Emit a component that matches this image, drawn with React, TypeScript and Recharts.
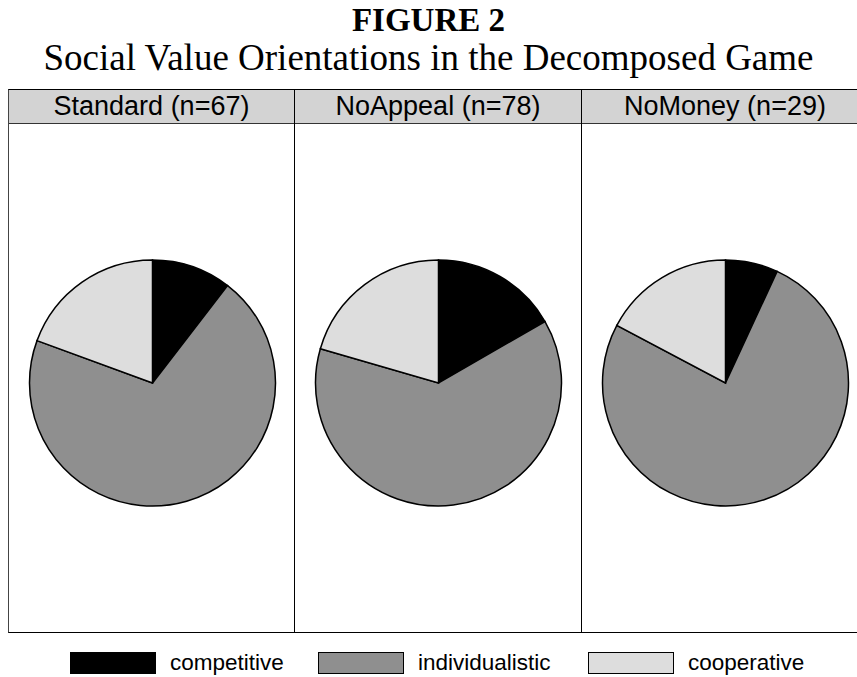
import React from "react";
import { PieChart, Pie, Cell } from "recharts";

const orientations = ["competitive", "individualistic", "cooperative"];
const orientationColors = ["#000000", "#8f8f8f", "#dddddd"];

const groups = ["Standard", "NoAppeal", "NoMoney"];
const groupSizes = [67, 78, 29];

// counts per orientation, in the same order as `orientations`
const standardCounts = [7, 47, 13];
const noAppealCounts = [13, 49, 16];
const noMoneyCounts = [2, 22, 5];

const countsByGroup = [standardCounts, noAppealCounts, noMoneyCounts];

const PANEL_LEFT = 8;
const PANEL_W = 287;
const HEADER_TOP = 89;
const HEADER_H = 34;
const PANEL_BOTTOM = 633;

function GroupPie({ counts }: { counts: number[] }) {
  const data = orientations.map((name, i) => ({ name, value: counts[i] }));
  return (
    <PieChart width={PANEL_W} height={PANEL_BOTTOM - HEADER_TOP - HEADER_H}>
      <Pie
        data={data}
        dataKey="value"
        nameKey="name"
        cx="50%"
        cy={254}
        outerRadius={123}
        startAngle={90}
        endAngle={-270}
        stroke="#000"
        strokeWidth={1.5}
        isAnimationActive={false}
      >
        {data.map((d, i) => (
          <Cell key={d.name} fill={orientationColors[i]} />
        ))}
      </Pie>
    </PieChart>
  );
}

export default function App() {
  return (
    <div
      style={{
        position: "absolute",
        left: 0,
        top: 0,
        width: 857,
        height: 677,
        background: "#fff",
        overflow: "hidden",
      }}
    >
      <div
        style={{
          position: "absolute",
          top: 1,
          width: 857,
          textAlign: "center",
          fontFamily: "'Liberation Serif', 'Times New Roman', serif",
          fontWeight: "bold",
          fontSize: 33,
          lineHeight: "38px",
        }}
      >
        FIGURE 2
      </div>
      <div
        style={{
          position: "absolute",
          top: 36,
          width: 857,
          textAlign: "center",
          fontFamily: "'Liberation Serif', 'Times New Roman', serif",
          fontSize: 37,
          lineHeight: "44px",
        }}
      >
        Social Value Orientations in the Decomposed Game
      </div>

      {groups.map((g, i) => (
        <div
          key={g}
          style={{
            position: "absolute",
            left: PANEL_LEFT + i * PANEL_W,
            top: HEADER_TOP,
            width: PANEL_W,
            height: PANEL_BOTTOM - HEADER_TOP,
            boxSizing: "border-box",
            border: "1.5px solid #000",
            borderLeftWidth: i === 0 ? 1.5 : 0,
            borderLeftColor: "#444",
          }}
        >
          <div
            style={{
              height: HEADER_H,
              boxSizing: "border-box",
              background: "#d3d3d3",
              borderBottom: "1.5px solid #333",
              textAlign: "center",
              fontFamily: "'Liberation Sans', Arial, sans-serif",
              fontSize: 27,
              lineHeight: `${HEADER_H - 2}px`,
            }}
          >
            {`${g} (n=${groupSizes[i]})`}
          </div>
          <GroupPie counts={countsByGroup[i]} />
        </div>
      ))}

      {orientations.map((o, i) => (
        <div
          key={o}
          style={{
            position: "absolute",
            top: 651,
            left: [70, 318, 588][i],
            display: "flex",
            alignItems: "center",
            fontFamily: "'Liberation Sans', Arial, sans-serif",
            fontSize: 22.5,
            lineHeight: "24px",
          }}
        >
          <span
            style={{
              display: "inline-block",
              width: 86,
              height: 22,
              background: orientationColors[i],
              border: "1.5px solid #000",
              boxSizing: "border-box",
              marginRight: 14,
            }}
          />
          <span>{o}</span>
        </div>
      ))}
    </div>
  );
}
